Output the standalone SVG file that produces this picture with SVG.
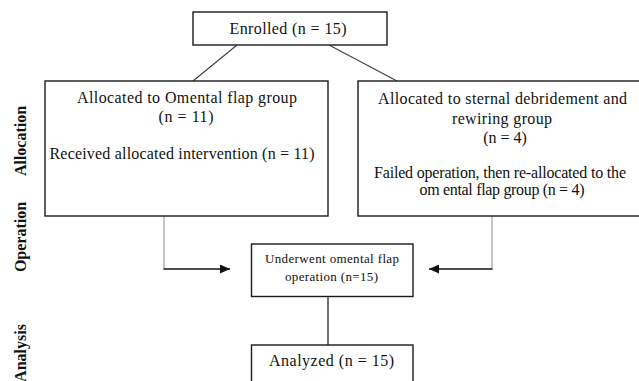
<svg xmlns="http://www.w3.org/2000/svg" width="639" height="381" viewBox="0 0 639 381">
<style>
.box{fill:#fff;stroke:#1a1a1a;stroke-width:1.4}
.t{font-family:"Liberation Serif","Times New Roman",serif;font-size:16px;fill:#111;text-anchor:middle}
.s{font-size:13px}
.lab{font-family:"Liberation Serif","Times New Roman",serif;font-size:16px;font-weight:bold;fill:#111;text-anchor:middle}
.c{stroke:#444;stroke-width:1.2;fill:none}
.v{stroke:#8a8a8a;stroke-width:1;fill:none}
.h{stroke:#111;stroke-width:1.5;fill:none}
</style>
<defs>
<marker id="ah" viewBox="0 0 10 10" refX="10" refY="5" markerWidth="10" markerHeight="9" markerUnits="userSpaceOnUse" orient="auto" preserveAspectRatio="none">
<path d="M0,0 L10,5 L0,10 z" fill="#111"/>
</marker>
</defs>
<rect width="639" height="381" fill="#fff"/>
<g id="labels">
<text class="lab" transform="translate(26,141) rotate(-90)">Allocation</text>
<text class="lab" transform="translate(26,237) rotate(-90)">Operation</text>
<text class="lab" transform="translate(26,353) rotate(-90)">Analysis</text>
</g>
<g id="connectors">
<line class="c" x1="237" y1="45" x2="193" y2="81"/>
<line class="c" x1="329" y1="45" x2="397" y2="81"/>
<line class="v" x1="164" y1="216" x2="164" y2="269"/>
<line class="h" x1="163.5" y1="269" x2="230" y2="269" marker-end="url(#ah)"/>
<line class="v" x1="492" y1="216" x2="492" y2="269"/>
<line class="h" x1="492.5" y1="269" x2="429" y2="269" marker-end="url(#ah)"/>
<line class="c" x1="328" y1="297" x2="328" y2="345" style="stroke-width:1.5"/>
</g>
<g id="enrolled">
<rect class="box" x="193" y="12" width="194" height="33"/>
<text class="t" x="288" y="34" textLength="117" lengthAdjust="spacing">Enrolled (n = 15)</text>
</g>
<g id="omental">
<rect class="box" x="45" y="81" width="283" height="135"/>
<text class="t" x="187" y="103" textLength="220" lengthAdjust="spacing">Allocated to Omental  flap group</text>
<text class="t" x="186" y="122" textLength="55" lengthAdjust="spacing">(n = 11)</text>
<text class="t" x="182" y="159" textLength="265" lengthAdjust="spacing">Received allocated intervention (n = 11)</text>
</g>
<g id="sternal">
<rect class="box" x="358" y="81" width="290" height="135"/>
<text class="t" x="502.5" y="104" textLength="249" lengthAdjust="spacing">Allocated to sternal debridement and</text>
<text class="t" x="502" y="124" textLength="100" lengthAdjust="spacing">rewiring group</text>
<text class="t" x="505" y="143">(n = 4)</text>
<text class="t" x="500" y="178" textLength="252" lengthAdjust="spacing">Failed operation, then re-allocated to the</text>
<text class="t" x="502" y="195" textLength="165" lengthAdjust="spacing">om ental flap group (n = 4)</text>
</g>
<g id="underwent">
<rect class="box" x="251.5" y="244" width="161.5" height="52.5"/>
<text class="t s" x="332" y="263" textLength="134" lengthAdjust="spacing">Underwent omental flap</text>
<text class="t s" x="331.5" y="281" textLength="93" lengthAdjust="spacing">operation (n=15)</text>
</g>
<g id="analyzed">
<rect class="box" x="251.5" y="345" width="161.5" height="50"/>
<text class="t" x="331.5" y="366" textLength="125" lengthAdjust="spacing">Analyzed  (n = 15)</text>
</g>
</svg>
